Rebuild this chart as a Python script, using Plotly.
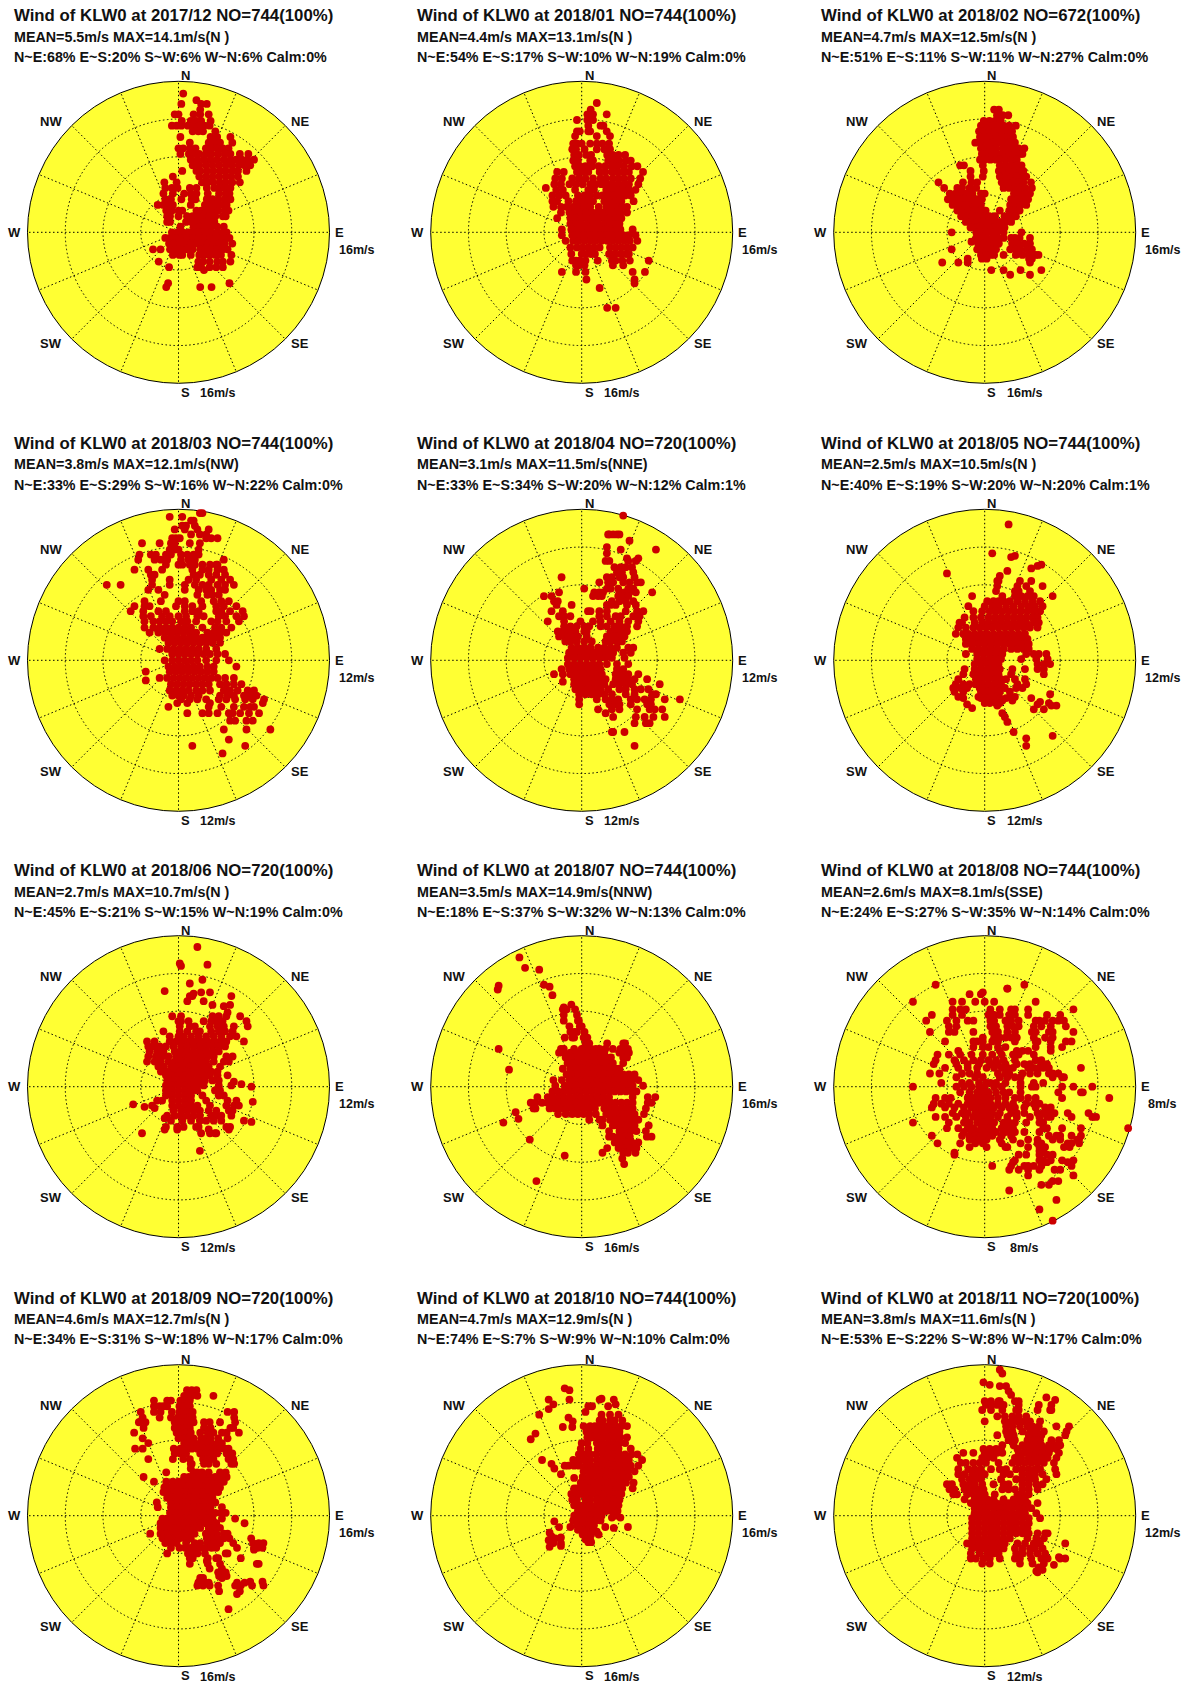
import math
import plotly.graph_objects as go

# Wind vectors: (north component m/s, [east components m/s])
P_201712 = [(14.7,[.5]),(14.0,[1.9]),(13.6,[.3,2.4,3.0]),(13.0,[2.3]),(12.5,[0,-.4,1.6,2.3,3.2]),(11.8,[.35,1.3,1.9,2.4,3.4]),
(11.3,[-.7,-.2,.3,1,1.6,2.2,2.7,3.3]),(10.7,[1.5,2.1,2.6,3.9]),(10.1,[.2,3.4,4.1,5.5]),(9.5,[1.2,3.2,3.8,4.4,5.7]),
(8.9,[0,.5,1.2,1.8,2.9,3.5,4.1,4.7,5.3]),(8.3,[.2,1.1,1.6,2.2,2.9,3.5,4.2,4.9,5.5,6.5,7.4]),(7.7,[1.3,2,2.7,3.4,4.1,4.8,5.5,6.1,6.7,7.3,8]),
(7.1,[1.5,2.2,2.9,3.6,4.3,5,5.7,6.4,7,7.6]),(6.5,[.4,1.9,2.3,3,3.7,4.4,5,5.7,6.3,7.2]),(5.9,[-.6,2.2,2.9,3.6,4.3,5,5.6,6.3]),
(5.3,[-1.5,-.2,2.5,3.1,3.7,4.4,5,5.7,6.5]),(4.7,[-1.4,-.7,-.1,1.2,1.9,3,3.8,4.3,4.9,5.5]),(4.1,[-1.6,-.6,.6,1.3,1.9,3.1,4.3,5,5.4]),
(3.5,[-1.4,-.8,.3,1.4,1.8,3,3.6,4.2,4.9,5.5]),(2.9,[-2.2,-1.6,-1,-.6,1.3,2.8,3.4,4,4.6,5.1]),(2.3,[-1.3,-.7,0,.4,1.9,2.4,3,3.6,4.2,4.9,5.3]),
(1.7,[-1.2,-.9,0,.9,1.5,2.1,2.7,3.3,3.9,4.7,5]),(1.1,[-1.2,-.9,.8,1.4,2,2.6,3.2,3.8]),(.6,[.2,1.6,2.2,2.8,3.4,4.1,4.8]),
(0,[-.7,-.1,.5,1.1,1.7,2.3,2.9,3.5,4.1,4.7,5.1]),(-.6,[-1.4,-.9,-.3,.3,.9,1.5,2.1,2.7,3.3,3.9,4.5,5.1,5.4]),
(-1.2,[-1,-.5,.1,.7,1.3,1.9,2.5,3.1,3.7,4.3,4.9,5.7]),(-1.8,[-2.7,-1.9,-.9,-.3,.3,.9,1.5,2.3,2.9,3.5,4.1,4.7,5.2]),
(-2.4,[-.6,.1,.4,1.3,2.2,2.7,3.3,3.9,4.5,5.6]),(-3.1,[-2.1,2.1,2.6,3.3,4.1,4.7,5.5]),(-3.7,[-1,2,2.4,3.3,4,4.7]),(-4.0,[2.7]),
(-5.4,[-1.1,5.4]),(-5.8,[-1.3,2.3,3.5])]

P_201801 = [(13.7,[1.6]),(13,[.95]),(12.5,[.6,1.2,2.65]),(11.9,[-.5,.6,1.2]),(11.3,[.7,2,2.3]),(10.7,[-.5,-.2,.7,.9,2.65]),(10.2,[-.7,1.6,3]),
(9.4,[-.9,-.5,0,.9,1.6,2.2,2.9]),(8.8,[-1,-.6,.3,1.6,2.4,3]),(8.2,[-.8,-.3,.5,1,2.7,3.3,3.9,4.6]),(7.6,[-.9,-.4,.9,1.2,2.8,3.4,4,4.7,5.2]),
(7,[-.7,-.2,.4,1.1,1.8,2.5,3.2,3.8,4.5,5.3,5.9]),(6.4,[-2.6,-1.9,-.5,.1,.7,1.9,2.5,3.2,3.8,4.4,5,6.5]),
(5.7,[-2.8,-2.1,-1,-.3,.4,1.2,2,2.6,3.3,3.9,4.5,5.2,6.2]),(5.1,[-2.9,-2.2,-1.3,-.6,.1,.9,1.5,2.1,2.7,3.3,3.9,4.5,5,6]),
(4.7,[-3.8]),(4.5,[-2.7,-2,-.7,.7,1.3,2.6,3.2,3.8,4.4,5,5.7]),(3.9,[-3.1,-2.4,-1.7,-.4,.3,.9,1.6,2.2,2.8,3.4,4,4.6,5.2]),
(3.3,[-3.1,-2.6,-1.4,-.6,0,.6,1.2,2.4,3,3.6,4.2,5.5]),(2.7,[-3,-2.2,-1.6,-.9,-.3,.3,.9,1.8,2.6,3.2,3.8,4.3,4.8]),
(2.1,[-2.2,-1.3,-.7,-.1,.5,1.1,1.7,2.3,2.9,3.5,4.1,4.8]),(1.5,[-2.6,-1.2,-.6,0,.6,1.2,1.8,2.4,3,3.6,4.2]),(.9,[-1.2,-.6,0,.6,1.2,1.8,2.4,3,3.6,4]),
(.3,[-2.1,-1.1,-.5,.1,.7,1.3,1.9,2.5,3.1,3.7,4.1,5.4]),(-.3,[-2.1,-1,-.4,.2,.8,1.4,2,2.6,3.2,3.8,4.4,5,5.7]),
(-.9,[-1.7,-.9,-.3,.3,.9,1.5,2.1,2.7,3.3,3.9,4.5,5.1,5.9]),(-1.6,[-1.2,-.5,.1,.7,1.3,1.9,3,3.6,4.2,4.8,5.4]),
(-2.3,[-1.1,0,.5,1,1.4,2.9,3.5,4.1,4.7,5]),(-3,[-1,-.6,-.2,.4,1.7,3.2,3.6,4.3,5.1,7.1]),(-3.5,[-.6,-.3,.3,3.3,4.4]),
(-4.2,[-2.1,-.6,.4,5.4,6.7]),(-5,[.5,5.6]),(-5.4,[5.6]),(-5.9,[1.9]),(-8,[2.7,3.6])]

P_201802 = [(13,[1,1.5]),(12.4,[1.3,1.9,2.5]),(11.8,[-.1,.5,1.1,1.7]),(11.3,[-.4,.2,.8,1.4,2,2.6,3.3]),(10.7,[-.6,-.1,.5,1.1,1.7,2.3,2.9]),
(10.1,[-.5,0,.6,1.2,1.8,2.4,3]),(9.5,[-1,-.4,.3,.8,1.4,2,2.6,3.2]),(8.9,[-.4,.1,.6,1.2,1.9,2.5,3,3.6,4.2]),(8.3,[-.3,.2,.8,1.4,2,2.6,3.2,3.8,4]),
(7.7,[-.5,0,.6,1.2,1.6,2.2,2.8,3.4]),(7.1,[-2.6,-2.2,-.2,1.6,2.2,2.8,3.4,3.9]),(6.5,[-1.5,-.1,1.5,2,2.6,3.2,3.8,4.1]),
(5.9,[-1.5,-.2,1.6,2.2,2.8,3.4,4,4.4]),(5.3,[-4.9,-2.3,-1.4,-.8,1.8,2.4,3,3.6,4.1,4.9]),(4.7,[-4.3,-2.9,-2.4,-1.6,-.9,2,2.6,3.2,3.7,4.3,5]),
(4.1,[-3.7,-3.1,-2.5,-1.9,-1.3,-.4,0,3.1,3.7,4.3,4.8]),(3.5,[-3.9,-3.3,-2.7,-2.1,-1.5,-.9,-.3,2.8,3.4,4,4.6]),(2.9,[-3.4,-2.8,-2.2,-1.6,-1,-.4,2.7,3.2,3.8,4.4]),
(2.3,[-2.9,-2.3,-1.7,-1.1,-.5,.1,1.6,2.6,3.1,3.7]),(1.7,[-2.5,-1.9,-1.3,-.7,-.1,.5,1.1,2.1,2.7,3.3]),(1.1,[-2,-1.4,-.8,-.2,.4,1,1.6,2.2,2.8]),
(.5,[-1.5,-.9,-.3,.3,.9,1.5,2.1]),(0,[-3.5,-.9,-.4,.2,.8,1.3,2,3.9]),(-.6,[-.9,-.4,.2,.8,1.4,2,2.8,3.2,3.7,4.8]),(-1,[-1.4]),
(-1.2,[-.7,-.1,.5,1,1.5,2.9,3.5,4.2,4.8]),(-1.8,[-3.5,-.8,-.3,.2,.7,1.2,2.7,3.3,3.8,4.5,5]),(-2.4,[-.4,.1,.6,1,2,3.3,4,4.7,5.4,5.7]),
(-2.8,[-1.8,-.3,.2,4.7,5]),(-3.2,[-4.5,-2.8,-1.8,4.8]),(-4,[.7,2,3.8,6]),(-4.5,[2.7,4.8])]

P_201803 = [(11.7,[1.9,1.7]),(11.4,[.3,-.7]),(11.1,[1,1.2]),(10.7,[.3,.6,1.3]),(10.4,[-6.6,-.3,.5,1.5,2.4]),(10,[1,1.7,2.2]),(9.7,[-.5,-.2,.1,2.2,2.6,3.1]),
(9.3,[-2.9,-1.5,-.6,-.3,.9,1.7]),(8.8,[-.7,-.3,0,1.6]),(8.4,[-3.1,-2.2,-1.8,-1,-.6,.2,.7,1.2,1.6]),(8,[-3.2,-1.9,-1.4,-.9,.2,.8,1.3,3.6]),
(7.6,[-1,0,.3,.9,1.3,1.9,2.5,3,3.1]),(7.2,[-3.5,-2.4,-1.3,1.1,1.9,2.4,3.1,3.6]),(6.8,[-2.2,-1.9,1.2,1.7,2.4,3,3.7]),(6.4,[-2.1,-.7,.8,1.4,2.6,3.4,4.1]),
(6,[-5.7,-4.6,-2.1,-.7,.5,1.3,1.9,2.4,3.1,3.7,4.4]),(5.6,[-2.4,-1.6,.5,1.6,2.2,2.6,3.3,3.7]),(5.2,[-1.1,1.5,2.3,2.7,3.2]),(4.7,[-2.7,-1.4,0,.5,1.8,2.8,3.4,4]),
(4.3,[-3.5,-2.7,-2.3,-.2,.5,1.1,1.9,3,3.6,4.6]),(3.9,[-3.8,-2.8,-1.6,-1,.5,1.1,1.6,3,3.4,4.1,5.1]),(3.5,[-2.8,-2.2,-1.3,-.7,0,.6,1.5,2,3.2,3.7,4.6,5.2]),
(3.1,[-2.7,-2,-1.5,-1,-.5,.2,.7,1.4,2.6,3.1,3.8,4.8]),(2.6,[-2.7,-2,-1.5,-1,-.5,0,.5,1,1.9,2.9,3.4,4.2]),(2.2,[-2.3,-1.6,-1.1,-.6,-.1,.4,.9,1.4,2.3,2.8,3.3,3.8]),
(1.8,[-1.1,-.6,-.1,.4,.9,1.4,1.9,2.4,2.9,3.3]),(1.4,[-.8,-.3,.2,.7,1.2,1.7,2.2,2.7,3.3]),(.9,[-1.5,-.9,-.4,.1,.6,1.1,1.6,2.2,3]),(.5,[-.5,0,.5,1,1.5,2,2.5,3.1,3.7]),
(0,[-1.1,-.5,0,.5,1,1.5,2.2,3,4]),(-.5,[-.8,-.3,.2,.7,1.2,1.7,2.3,2.8,4.6]),(-.9,[-2.6,-.7,-.2,.3,.8,1.3,1.8,2.3,2.8]),
(-1.4,[-1.5,-.9,-.4,.1,.6,1.1,1.6,2.1,2.6,3.1,3.7,4.4]),(-1.6,[-2.6]),(-1.9,[-.6,-.1,.4,.9,1.4,1.9,2.4,3.3,3.8,4.4,5]),(-2.4,[-.7,-.2,.3,.8,1.4,1.9,2.5,3.6,4.1,4.7,5.5,6]),
(-2.8,[-.5,0,.4,1,1.6,3.3,3.9,4.4,5.2,5.7,6.2]),(-3.1,[.2,.9,1.5,2.2,3.2,3.8,4.5,5.3,5.9,6.8]),(-3.4,[-.1,.7,2.5,6.7]),(-3.7,[-.8,2.4,3.4,4.4,5.2,5.7,6]),
(-4.2,[.7,1.9,2.4,3.1,4,4.3,4.9,5.6,6.4]),(-4.8,[4.1,4.5,5.4,5.9]),(-5.5,[3.6,5.4,7.3]),(-6.3,[4]),(-6.8,[1.1,5.3]),(-7.4,[3.5])]

P_201804 = [(11.5,[3.3]),(10,[2.2,3,2.1,2.8,2.5]),(9.5,[3.8]),(9,[2]),(8.8,[5.9,3.1]),(8.5,[2]),(8.1,[3.6,4.5]),(7.9,[1.9,2.2,3.7,4.3]),(7.4,[2.6,3.1,3.5,4]),(7,[2.8,3.2,4.1]),
(6.6,[-1.6,2,2.4,3,3.3,4.2]),(6.2,[1.4,2.1,2.5,3.3,3.8,4.4,4.7]),(5.7,[.2,2,2.3,2.9,3.7,4.1]),(5.4,[-1.8,1,1.4,1.7,3,3.4,3.8,4.3,5.6]),(5.1,[-3,-2.4,.9,1.3,1.6,2.9,3.3,3.7]),
(4.7,[-2.2,-1.9,2.4,3,3.5,4.1]),(4.4,[-2,-.8,2,2.3,2.7,3.6,4.3]),(3.9,[-2.4,-1.5,.5,.7,1.4,2,3.5,4.4,4.9]),(3.5,[-1.8,-1.4,-.9,1.4,2,2.7,3.1,4.1,4.6]),
(3.1,[-2.7,-1.4,-.1,.9,1.5,2.3,3,3.7,4.5]),(2.7,[-1.4,-.9,-.4,.2,.6,1.5,2,2.6,3.1,3.6,4.4]),(2.3,[-1.9,-1.5,-1,-.5,.2,.4,2.3,2.7,3.1,3.6]),(1.9,[-1.8,-1.3,-.8,-.3,.4,2,2.5,3,3.4]),
(1.5,[-1.3,-.9,-.4,.2,.8,1.9,2.3,2.8,3.2]),(1,[-.8,-.3,.2,.7,1.3,1.8,2.3,2.8,3.7,4.1]),(.6,[-1,-.5,0,.5,1,1.5,2,2.5,3.3,3.9]),(.2,[-1.1,-.6,-.1,.4,.9,1.4,1.9,2.4,3.4]),
(-.3,[-1.1,-.6,-.1,.4,.9,1.4,2,2.8,3.7]),(-.7,[-1.6,-1,-.5,0,.5,1,1.5,2.8,3.3]),(-1.1,[-2.2,-1.5,-.9,-.4,.1,.6,1.1,1.6,2.7,3.2,3.7,4.5]),(-1.5,[-.6,-.1,.4,.9,1.4,1.9,2.7,3.2,3.7,4.2,5.2]),
(-1.7,[-1.5]),(-1.9,[-.6,-.2,.3,.8,1.3,1.8,2.5,3,3.5,4,6.2]),(-2.3,[-.5,0,.5,1,1.5,2.1,3,3.5,4.2,4.7,5.3]),(-2.7,[-.2,.3,.8,1.3,1.8,2.4,3.5,4.2,5.6,5.9]),
(-3.1,[-.2,1.2,1.9,2.4,2.9,3.9,4.4,5,5.5,6.6,7.8]),(-3.5,[-.2,2.2,2.7,3,3.9,5.2,5.5]),(-3.9,[1.3,2.4,3,4.4,5.4,5.8,6.4]),(-4.2,[1.9]),(-4.5,[2.5,4.3,5,5.7,6.6]),
(-5,[4.2,5.1,5.4]),(-5.7,[2.4,2.5,3.4]),(-6.8,[4.2])]

P_201805 = [(10.8,[1.9]),(8.5,[.6]),(8.2,[2.1]),(8.3,[2.4]),(7.6,[4.5]),(7.5,[4.2]),(7.3,[3.7]),(7.1,[1.8]),(6.9,[-3]),(6.7,[1.2]),(6.3,[1,1.1,2.8,3.7]),(5.9,[1,2.6,3.3,4.6]),(5.5,[.9,2.4,2.7,3.6]),
(5.1,[-1,1.4,2.4,2.9,3.4,3.9,5.4]),(4.7,[.2,.7,1.1,1.5,2,2.6,3.2,3.8,4.4]),(4.3,[-1.3,0,.6,1.1,1.7,2.3,2.9,3.5,4,4.6]),(3.9,[-.9,-.2,.4,.9,1.4,1.9,2.4,2.9,3.4,3.9,4.4]),
(3.4,[-1.6,-.9,-.3,.3,.8,1.3,1.8,2.3,2.8,3.3,3.8,4.2]),(3,[-2,-1.8,-.8,-.2,.3,.8,1.3,1.8,2.3,2.8,3.3,3.9,4.3]),(2.6,[-2.1,-1.5,-.9,-.4,.1,.6,1.1,1.6,2.1,2.6,3.1,3.6,4.2]),
(2.1,[-2.3,-1.7,-1.3,-.8,-.3,.2,.7,1.2,1.7,2.2,2.7,3.2]),(1.7,[-1.5,-1.1,-.6,-.1,.4,.9,1.4,1.9,2.4,2.9,3.4]),(1.3,[-1.5,-1,-.5,0,.5,1,1.5,2,2.5,3,3.5]),(.9,[-1,-.5,0,.5,1,1.5,2.1,2.6,3.1,3.5]),
(.5,[-1.5,-.6,-.1,.4,.9,1.4,3.3,3.9,4.3,4.9]),(.1,[-.6,-.1,.4,.9,1.3,2.9,4.1,5]),(-.3,[-.8,-.3,.2,.7,1.1,4.2,4.7,5.2]),(-.7,[-1.6,-.8,-.3,.2,.7,1.2,2.2,3.2,4.2,4.7]),
(-1.1,[-1.7,-.9,-.4,.1,.6,1.1,2.1,4.7]),(-1.5,[-2.1,-.7,-.2,.3,.8,1.3,1.7,2.4,3.2]),(-1.9,[-2.3,-1.7,-1.2,-.7,-.2,.3,.8,1.3,2.6,3.3]),(-2.2,[-2.5,-1.9,-1.4,-.4,.1,.6,1.1,1.6,2.5,3]),
(-2.5,[-2.4,-1.7,-.3,.2,.7,1.2,2]),(-2.7,[5.2]),(-2.9,[-2.1,-.5,0,.5,1,2,2.4]),(-3,[-1.7,-.3,.2,.7,1.2,1.7,3.7]),(-3.2,[1.4,2.2]),(-3.3,[4.4]),(-3.4,[0,.4,.9,1.2,5.1]),(-3.5,[-1.4,4.2]),
(-3.6,[1,5.7,5.3]),(-3.8,[-1]),(-3.9,[3.9,4.7]),(-4.2,[1.4]),(-4.5,[1.6]),(-4.9,[1.8]),(-5.7,[2.3]),(-6,[5.4]),(-6.2,[3.3]),(-6.8,[3.3])]

P_201806 = [(11.1,[1.5]),(9.8,[.1]),(9.7,[2.3]),(9.6,[.2]),(8.5,[1.9]),(8.2,[.9]),(7.6,[-1.1]),(7.5,[1.8,2.5]),(7.4,[1.2]),(7.2,[.9,1.1,4.2]),(6.8,[.7,2]),(6.5,[2.7,4.1]),(6.4,[3.6]),(5.9,[3.9]),
(5.6,[-.5,.2,2.7,3.2,3.8,4.9]),(5.2,[0,.2,.8,2,2.6,3,3.5,5.4]),(4.8,[.1,.9,1.3,2.5,3.1,3.6,4.4,5.5]),(4.4,[-1.2,.1,.7,1.4,1.7,2.6,3.2,3.7,4.3]),(4,[-.7,0,.4,1,1.6,2.2,2.8,3.4,4.1,4.6]),
(3.6,[-2.5,-1.9,-.7,-.2,.3,.8,1.3,1.8,2.3,2.8,3.3,3.8,5.2]),(3.2,[-2.4,-2,-1.5,-1,-.4,.2,.7,1.2,1.7,2.2,2.7,3.2,3.7]),(2.8,[-2.3,-1.7,-1.2,-.3,.2,.7,1.2,1.7,2.2,2.7,3.2]),
(2.4,[-2.4,-1.8,-1.3,-.8,-.2,.3,.8,1.3,1.8,2.3,2.8,3.8,4.3]),(2,[-2.5,-1.9,-1.4,-.8,-.3,.2,.7,1.2,1.7,2.2,2.8,3.6,4]),(1.6,[-1.6,-1.2,-.6,-.1,.4,.9,1.4,1.9,2.4,3.3]),
(1.2,[-1.4,-.9,-.4,.1,.6,1.1,1.6,2.1,2.6,3.1]),(.9,[-1,-.5,0,.5,1,1.5,2,2.5,3.1,3.9]),(.5,[-.9,-.4,.1,.6,1.1,1.6,2.1,2.7,3.2]),(.4,[4.4]),(.2,[5]),(.1,[-1,-.5,0,.5,1,1.5,2,3.2,4.2]),(0,[5.8]),
(-.3,[-1,-.5,0,.5,1,1.5,2.9,3.3]),(-.7,[-1,-.5,0,.5,1,1.9,3.2,3.6]),(-1.1,[-1.7,-1.3,-.5,0,.5,1,2.2,3.9,4.6]),(-1.2,[5.9]),(-1.4,[-3.6]),(-1.5,[-.5,0,.5,1,1.5,2.5,3.8,4.4,4.8,-2.1]),
(-1.6,[-2.7]),(-1.7,[-1.9]),(-1.9,[-.4,.2,.7,1.2,1.7,2.4,3,4,4.3]),(-2.3,[-.9,-.3,.2,.7,1.2,1.7,2.6,3,3.4,4.2]),(-2.5,[-1.1]),(-2.7,[-.6,.3,1,1.7,2.2,2.8,3.4,5.2]),(-2.8,[5.8]),
(-3.2,[-1,-.1,.4,1.4,1.6,3.8,4.1]),(-3.4,[-.1,-1.1,2.4,4]),(-3.7,[-2.9,1.8,2.5,2.9,3]),(-5.1,[1.7])]

P_201807 = [(13.7,[-6.6]),(12.6,[-6]),(12.4,[-4.5]),(10.8,[-4]),(10.7,[-8.8]),(10.6,[-3.4]),(10.3,[-8.9]),(9.7,[-3.1]),(8.7,[-1.1]),(8.4,[-1.9]),(8.2,[-2,-1.6,-.7]),(7.6,[-1.9,-.5]),(7,[-1.9,-.4,-.3]),
(6.4,[-1.3,-.1,-.2,0]),(5.8,[-1.2,-.8,-.5,.3]),(5.2,[-1.8,-1,-.8,.2,.6]),(4.6,[.4,.8,2.7,4.4,4.6]),(4,[-8.8,-2.2,-1.9,-.8,0,.5,1,1.5,1.9,2.5,3.3,4.1,4.5,4.9]),(3.6,[-2.4,-1.9,-1.2,-.6,0,.6,1.2,1.8,2.4,4,4.6,5]),
(3.1,[-1.7,-1,-.4,.2,.8,1.4,2,2.6,3.1,4.4,4.8]),(2.5,[-1.5,-.9,-.3,.3,.9,1.5,2.1,2.7,3.3,4.4]),(1.9,[-2,-1.2,-.6,0,.6,1.2,1.8,2.4,3,3.6,4]),(1.8,[-7.7]),
(1.3,[-1.6,-1,-.4,.2,.8,1.4,2,2.6,3.2,3.8,4.4,5,5.6]),(.7,[-3,-2.1,-1.3,-.7,-.1,.5,1.1,1.7,2.3,2.9,3.5,4.1,4.7,5.3,6]),(.1,[-2.8,-1.8,-1.2,-.6,0,.6,1.2,1.8,2.4,3,3.6,4.2,4.8,5.4,6.5]),
(-.5,[-3.1,-2.5,-1.9,-1.3,-.7,-.1,.5,1.1,1.7,2.3,2.9,3.5,4.1,4.7,5.3,5.8]),(-1.1,[-4.7,-3.6,-3.1,-2.5,-1.9,-1.3,-.7,-.1,.5,1.1,1.7,2.3,2.9,5.4,7,7.8]),
(-1.7,[-5.4,-4.9,-4.2,-3.6,-3,-2.4,-1.8,-1.2,-.6,0,.6,1.2,1.8,2.4,3,3.6,4.2,4.8,5.4,7,7.4]),(-2.3,[-5.1,-4.9,-3.4,-2.8,-2.2,-1.6,-1,-.4,.2,.8,1.4,2.4,3,3.6,4.2,4.8,5.4,6.8]),
(-2.7,[-7]),(-2.9,[-2.5,-1.7,-1,-.4,.2,.8,1.5,2.6,3.2,3.8,4.4,5,5.6,6.6]),(-3.4,[-6.7]),(-3.5,[.8,1.9,2.2,3,3.6,4.2,4.8,5.4,6]),(-3.8,[-8.3]),(-4.1,[2.2,3.3,3.8,4.4,5,5.6,7.1]),
(-4.7,[2.9,4,4.6,5.2,5.8,6.8]),(-5.3,[2.9,3.3,3.9,4.5,5.1,6.9,7.4]),(-5.6,[-5.5]),(-5.9,[3.5,4.1,4.7,5.3,6]),(-6.5,[2.7,3.9,4.5,5.1,5.8]),(-7,[2.2,4.4,4.9,5.7]),(-7.3,[-1.8]),(-7.6,[4.3]),(-8.2,[4.5]),(-10,[-4.8])]

P_201808 = [(5.4,[-2.6,2.1]),(5.2,[1.2,1.2]),(5,[-.1]),(4.9,[-.8,-.2]),(4.5,[-3.8,-1.2,-.5,0,.5,-1.7,2.7]),(4.1,[-1.7,-1.3,-1,.3,.8,1.4,1.6,2.3,4.7]),(3.8,[-2.8,-1.7,-1.2,.2,.5,.8,1.3,1.6,2.3,3.3,4]),
(3.5,[-3.1,-2,-1.5,-.9,-.6,.3,.5,1.1,1.4,1.8,2.7,2.9,3.2,3.6,3.9,4.2]),(3.2,[-1.5,-1.9,.3,.6,1.2,1.5,1.8,2.6,3,3.5,4.3]),(2.9,[-2.9,-1.9,-1.6,-.6,.4,.7,1.2,1.6,2.5,2.7,3.4,3.6,4.7]),
(2.6,[-.1,.5,.8,1.1,1.4,1.7,2.6,3.2,3.6]),(2.4,[-2.1,-.6,-.4,-.1,.4,.7,1.6,2.7,2.8,3.5,4.3,4.6]),(2.1,[-.6,-.1,.2,.7,1.1,2.7,3.5,4.1]),(1.9,[-1.4,.8,1.7,2,2.3,3.5]),
(1.7,[-2.5,-1.9,-1.3,-.7,-.1,.4,.9,1.5,1.8,2.6]),(1.4,[-2.6,-1.6,-1.1,-.6,-.2,.2,.6,1,1.6,2.7,3]),(1.2,[-2.7,-1.5,-.9,-.3,.3,.7,1.1,1.7,2.1,2.4,3,3.3]),
(1,[-2.1,-1.4,-.9,-.4,.1,.5,.9,1.2,1.5,2.3,2.6,2.9,3.1,3.4,5.1]),(.7,[-2.9,-2.4,-1.2,-.8,-.4,.7,1.1,1.3,2,2.4,2.8,3.4,3.6,3.9]),(.5,[-1.5,-.5,-.1,.8,1.2,1.6,1.9,3.6,4.1,4.2]),
(.2,[-2.3,-1.2,-.8,-.3,.1,.3,.6,1.1,1.9,2.6,3.1]),(0,[-3.8,-1.5,-1.1,-.7,-.3,0,.5,.9,1.9,2.5,2.7,4.1,4.7,5.7]),(-.3,[-1.3,-.8,-.4,-.1,.2,.6,1,1.3,1.9,3.9,5.1,5.2]),
(-.6,[-2.6,-2.1,-1.8,-.9,-.6,-.3,0,.3,.7,1.1,1.6,1.9,2.3,2.7,4.1,6.6]),(-.9,[-2.7,-2.3,-1.9,-1.4,-.9,-.6,-.3,0,.3,.7,1.1,1.5,2.2,2.6,2.9]),(-1.1,[-2.8,-2.1,-1.6,-1.1,-.7,-.4,-.1,.2,.5,.9,1.3,1.6,2.1,2.7,3.2,3.5]),
(-1.4,[-1.7,-1.2,-.9,-.5,-.2,.1,.4,.8,1.4,1.7,2.1,2.8,3.1,3.4,3.7,4.4,5.5]),(-1.6,[-2.6,-2.1,-1.5,-1,-.6,-.3,0,.3,.7,1.2,1.7,2.4,2.9,3.3,3.5,4.6,5.7,5.9]),(-1.9,[-3.8,-1.9,-1.1,-.8,-.4,-.1,.2,.5,1,1.3,1.6,2.2,2.9,3.1]),
(-2.2,[-2,-1.4,-.9,-.6,-.2,.1,.4,.9,1.2,1.5,3.1,3.3,4.1,5.1,7.6]),(-2.4,[-1.1,-.7,-.4,-.1,.2,.6,1.1,1.4,1.6,2.1,2.9]),(-2.6,[-2.8,-1.2,-.8,-.5,-.2,.1,.4,.9,1.4,3.4,3.8,4,4.6,5.1]),
(-2.8,[-.8,-.5,-.2,.1,.8,1.5,2.3,2.8,3.6,4,4.9,5]),(-3,[-2.5,-1.3,-.5,-.1,.9,1.9,2.8,3,4.4,4.6,5]),(-3.2,[-.8,.1,1.1,1.2,2.3,2.9,3.2,4.2,4.5]),(-3.4,[2.9,3.1]),(-3.5,[-1.6,3]),
(-3.6,[-1.6,1.8,2.2,2.9,3.3,3.6]),(-3.9,[1.6,2.9,3.1,3.5,4.1,4.7]),(-4,[1.5,3.3,4.4]),(-4.2,[.4,1.4,2.1,2.3,2.6,3,4.6]),(-4.4,[1.3,1.8,2.3,2.9,3.7,4]),(-4.7,[2.3,4.7]),(-5,[3.6,3.9]),(-5.2,[3,3.4]),
(-5.5,[1.3]),(-6,[3.8]),(-6.5,[2.9]),(-7.1,[3.6])]

P_201809 = [(13.3,[.9,1.4,1.9]),(12.7,[.6,1,1.4,2,3.7]),(12.2,[-2.6,-1.2,-.8,.2,.7,1.2]),(11.6,[-2.6,-2,-1.6,-1.2,.1,.6,1.2]),(11,[-4,-2.6,-1.9,-.7,.1,.5,1,1.5,5.2,5.9]),(10.4,[-3.8,-2,-.8,-.1,.4,1,1.5,5.9]),
(9.9,[-4.2,-3.5,-.4,.1,.6,1.1,1.6,2.7,3.3,4.4,6]),(9.3,[-3.7,-.4,.2,.7,1.2,2.7,3.4,5.5,5.8]),(8.8,[-4.7,-.2,.3,.8,1.3,2.3,3.1,3.7,4.6,5.1,6.4]),(8.2,[-3.8,0,.6,1.1,1.6,2.4,2.9,3.4,4.2,5.2]),
(7.7,[-3.2,.6,1.1,1.7,2.3,2.9,3.5,4.2,4.6]),(7.1,[-4.6,-3.8,-.5,.2,.8,1.4,2,2.6,3.2,3.8,4.4,4.9,5.3]),(6.6,[-.4,.2,.8,2.3,2.9,3.5,4.1,5.1,5.7]),(6,[-3.2,-.6,.5,1.2,2.6,3,3.7,5.3,5.8]),
(5.5,[1.3,1.4,2.7,3.2,4,5.6,5.9]),(5,[1.3]),(4.6,[-1.3,1.6,2,2.5,3.2,4.4,5]),(4.1,[-3.7,.6,1.1,1.6,2.2,2.7,3.3,3.9,4.5,5.1]),(3.6,[-2.6,-1.3,-.6,0,.6,1.2,1.8,2.4,3,3.6,4.2,4.8]),
(3,[-1.5,-1,-.4,.2,.8,1.4,2,2.6,3.2,3.8,4.4]),(2.5,[-1.6,-1,-.4,.2,.8,1.4,2,2.6,3.2,3.8,4.2]),(1.9,[-1.2,-.6,0,.6,1.2,1.8,2.4,3,3.6]),(1.4,[-2.3,-.8,-.2,.4,1,1.6,2.2,2.8,3.4,3.9]),
(.9,[-2.2,-.8,-.2,.4,1,1.6,2.2,2.8,3.4,4.6]),(.3,[-.9,-.3,.3,.9,1.5,2.1,2.7,3.3,3.9,4.5,5]),(-.3,[-1.7,-1.2,-.6,0,.6,1.2,1.8,2.4,3,3.6,4.6,6]),(-.8,[-1.9,-1.3,-.7,-.1,.5,1.1,1.7,2.3,2.9,3.5,4,7]),
(-1.3,[-1.9,-1.3,-.7,-.1,.5,1.1,1.7,2.3,3.2,3.8,4.4]),(-1.9,[-3,-1.9,-1.3,-.7,-.1,.5,1.1,1.7,2.9,3.5,4,4.8,5.2]),(-2.4,[-1.7,-1.1,-.5,.1,.7,1.3,3,3.6,4.2,4.8,5.4,7.7]),
(-2.9,[-1.4,-.8,-.2,.8,1.7,2.3,3.1,3.7,4.4,5.8,7.9,8.5,9]),(-3.4,[-.8,.1,.7,1.3,1.8,2.3,2.9,3.5,4,6.2,8,8.4,8.9]),(-3.6,[8]),(-4,[-1.2,1,1.4,2,2.8,5,5.2]),(-4.5,[1.2,1.5,3.1,4,4.2,6.6]),(-4.8,[3]),
(-5.1,[1.2,3.1,4.4,8.3,8.5]),(-5.6,[3.3,4.6]),(-6,[4.2,4.6,5]),(-6.4,[4.3,5.1]),(-6.6,[2.3,2.6,4.6]),(-7,[2.2,7.6,8.9]),(-7.1,[2.1,2.8,3.2,6.2,7]),(-7.4,[2,2.6,3.3,4.2,6,6.6,7.8,9]),(-8,[4.3,6.5]),(-8.3,[6.2]),(-9.9,[5.3])]

P_201810 = [(13.5,[-1.8]),(13.3,[-1.3]),(12.4,[2.1]),(12.3,[-1.3,-3.5,1.9,3.4]),(11.8,[-3,3.6]),(11.6,[2.8,.7,1.1]),(11.3,[-3.5]),(11,[.4]),(10.7,[-4.5,2.1,3,3.9]),(10.4,[-1.4]),(10.1,[1.9,2.2,3,3.5,4.3]),(10,[-.95]),
(9.5,[.2,.9,1.4,1.9,2.5,3,3.6,4.2,4.8]),(9.4,[-2,-1]),(8.9,[.5,1,1.6,2.2,2.8,3.4,4]),(8.7,[-4.9]),(8.3,[.6,1.1,1.7,2.3,2.9,3.5,4.1,4.8]),(8.1,[-5.4]),(7.7,[0,.6,1.6,2.2,2.8,3.4,4,4.6]),(7.1,[-.1,.7,1.7,2.3,2.8,3.3,3.9,5.2]),
(6.5,[-.3,.3,.9,1.5,2.2,2.8,3.4,4,4.6,5.3,5.9]),(5.9,[-4.2,-.9,-.3,.3,.9,1.6,2.1,2.7,3.3,3.9,4.5,5,6.4]),(5.5,[-3.2]),(5.3,[-1.8,-1.4,-.8,-.3,.4,1,1.6,2.2,2.8,3.4,4,4.6,5.2,6]),(5,[-2.9]),
(4.7,[.2,.7,1.3,1.9,2.5,3.1,3.7,4.3,4.9,5.6]),(4.4,[-2.2]),(4.1,[.1,.8,1.4,2,2.6,3.2,3.8,4.4,5]),(4,[-.8]),(3.5,[-.1,.5,1.1,1.7,2.3,2.9,3.5,4.1,4.7,5.5]),(2.9,[-.8,-.5,.1,.7,1.3,1.9,2.5,3.1,3.7,4.3,5.4]),
(2.3,[-1.1,-.6,0,.6,1.2,1.8,2.4,3,3.6,4.2]),(1.7,[-1,-.5,.4,.9,1.6,2.2,2.8,3.4,4]),(1.1,[-.8,-.3,.3,.9,1.5,2.1,2.7,3.3,3.9]),(.5,[-.4,.2,.8,1.4,2,2.6,3.2,3.8]),(.4,[3.5]),(0,[-.8,-.3,.3,.9,1.5,2.1,3.7]),
(-.2,[3.2,4.1]),(-.5,[-.9,-.3,.3,.9,1.5,2]),(-.6,[-2.9]),(-1,[-.5,.1,.7,1.3]),(-1.2,[-2.4,-1.2,2.5,4.9]),(-1.3,[3.4]),(-1.5,[-.4,.2,.7,1.2]),(-1.7,[1.6]),(-1.8,[-3.4]),(-2,[.1,.5,1,1.8]),
(-2.2,[-3.2]),(-2.3,[-2.2]),(-2.4,[-2.8]),(-2.5,[.4,.9]),(-2.6,[-3.5]),(-2.8,[.7,1]),(-2.9,[-3,-2.2]),(-3.2,[-2.2]),(-3.3,[-3.4])]

P_201811 = [(11.9,[1.7]),(11.6,[1.2]),(11.3,[1.4]),(10.6,[-.1]),(10.4,[.4]),(10.3,[1.2,1.7]),(9.9,[1.9]),(9.6,[2.1]),(9.4,[4.9]),(9.2,[5.6]),(9.1,[0,.5,1.1,1.2,2.4,2.7]),(8.8,[.1,.5,1,1.5,2.7,4.3,5.3]),
(8.4,[-.2,.5,1.4,2.5,2.7,4.2,5.2,5.3]),(7.9,[1,1.6,2.2,2.7,3.3]),(7.5,[0,1.6,2.1,2.6,3.1,3.6,4.4]),(7.1,[1.7,2.2,2.8,3.4,3.8,4.3,5.7,6.7]),(6.7,[1.7,2.2,3,3.6,4.1,4.7,6.5]),(6.4,[1,1.8,2.3,3.5,4,4.5,6.4]),
(6,[1.9,2.4,3.4,3.9,4.4,5.3,5.9]),(5.6,[1.4,2.3,3,3.5,4,4.5,5.1,5.6,6]),(5.3,[-.1,.4,.9,1.3,2.6,3.2,3.7,4.2,4.7,5.2,5.7]),(5,[-1.7,-.9,0,.5,1,1.4,2.7,3.1,3.6,4.1,4.6,5.1,5.9]),
(4.6,[-2.2,-.2,.2,.7,2.4,2.9,3.5,4,4.5,5,5.7]),(4.2,[-1.9,-1.5,-.9,-.4,.1,1.1,2.2,2.7,3.2,3.7,4.2,4.7,5.5]),(3.7,[-2.1,-1.3,-.8,-.3,.5,1.2,1.7,2.5,3,3.5,4,4.4,5.6]),(3.3,[-2.1,-1.6,-1,-.5,0,1.5,2,3,3.5,4,4.6,5.7]),
(2.9,[-1.8,-1.2,-.8,-.3,1.3,2.5,3,3.5,4,4.9]),(2.5,[-3,-2.6,-1.7,-1.2,-.8,-.2,.7,1.5,1.9,3,3.5,4.1,4.6]),(2.1,[-2.8,-2.4,-1.6,-1.1,-.6,-.1,1.4,1.9,2.4,3,3.5,4.2]),(1.7,[-2.5,-2.2,-1.4,-.9,-.5,0,.8,2.6,3,3.5]),
(1.3,[-1.6,-.8,-.3,.2,.7,1.5,2.3,2.8,3.2]),(1,[-1.1,-.6,-.1,.4,.9,1.4,1.9,2.4,2.9,3.4,4.2]),(.6,[-.8,-.3,.2,.7,1.2,1.7,2.2,2.7,3.2,3.7]),(.2,[-.8,-.3,.2,.7,1.2,1.7,2.2,2.7,3.2,4.1]),
(-.2,[-1,-.5,0,.5,1,1.5,2,2.5,3,3.5,4.4]),(-.6,[-1,-.5,0,.5,1,1.5,2,2.5,3,3.5]),(-1,[-1,-.5,0,.5,1,1.5,2,2.5,3,3.4]),(-1.4,[-1,-.5,0,.5,1,1.5,2,2.5,3,3.5,4.2,4.8,5]),(-1.8,[-1,-.5,0,.5,1,1.5,2,3.4,4.1,4.7]),
(-2.2,[-1.4,-.9,-.4,.1,.6,1.1,1.6,2.6,3.2,3.9,4.4,6.4]),(-2.6,[-1,-.5,0,.5,1,1.5,2.4,3,3.6,4,4.6]),(-3,[-1.1,-.4,.2,.7,1.1,2.5,3,3.6,4.2,4.8]),(-3.3,[5.9]),(-3.4,[-1.1,-.7,-.1,.4,1.2,2.4,2.8,3.7,4.5,5,6,6.4]),
(-3.8,[-.2,.4,2.8,3.8,4.7]),(-3.9,[5.5]),(-4.1,[4.3]),(-4.3,[4.6]),(-4.4,[4.1]),(-4.5,[4.2])]

PANELS = [P_201712, P_201801, P_201802, P_201803, P_201804, P_201805, P_201806, P_201807, P_201808, P_201809, P_201810, P_201811]
MONTHS = ["2017/12","2018/01","2018/02","2018/03","2018/04","2018/05","2018/06","2018/07","2018/08","2018/09","2018/10","2018/11"]
COUNTS = [744,744,672,744,720,744,720,744,744,720,744,720]
MEANS = [5.5,4.4,4.7,3.8,3.1,2.5,2.7,3.5,2.6,4.6,4.7,3.8]
MAXES = [14.1,13.1,12.5,12.1,11.5,10.5,10.7,14.9,8.1,12.7,12.9,11.6]
MAXDIR = ["N ","N ","N ","NW","NNE","N ","N ","NNW","SSE","N ","N ","N "]
QUAD = [(68,20,6,6,0),(54,17,10,19,0),(51,11,11,27,0),(33,29,16,22,0),(33,34,20,12,1),(40,19,20,20,1),
        (45,21,15,19,0),(18,37,32,13,0),(24,27,35,14,0),(34,31,18,17,0),(74,7,9,10,0),(53,22,8,17,0)]
RMAX = [16,16,16,12,12,12,12,16,8,16,16,12]
COMPASS = ["N","NE","E","SE","S","SW","W","NW"]

W, H = 1191, 1683
RADIUS = 151
CX = [178.5, 581.7, 984.7]
CY = [232.3, 660.3, 1086.7, 1515.7]
TEXT_X = [12.7, 416, 820]
TEXT_Y = [(15.7,36.7,56.7),(443.3,464.3,485),(870,891.7,911.7),(1298,1319.3,1339.3)]
LABEL_OFF = {"N":(7.3,-156.3),"NE":(121.7,-110.7),"E":(161,0),"SE":(121,111),"S":(7.3,160),"SW":(-127.3,111),"W":(-164,0),"NW":(-127.3,-110.7)}
YELLOW, RED, INK = "#FFFF33", "#CC0000", "#111111"
SANS = "Liberation Sans, Arial, sans-serif"
GRID_DASH = "1.5px,2.5px"

fig = go.Figure()
ann = []
def label(px, py, text, size, anchor="center"):
    ann.append(dict(x=px/W, y=1-py/H, xref="paper", yref="paper", text=f"<b>{text}</b>", showarrow=False,
                    xanchor=anchor, yanchor="middle", font=dict(family=SANS, size=size, color=INK), borderpad=0))

layout = {}
for i, rows in enumerate(PANELS):
    col, row = i % 3, i // 3
    cx, cy = CX[col], CY[row]
    east = [u for v, us in rows for u in us]
    north = [v for v, us in rows for u in us]
    speed = [math.hypot(u, v) for u, v in zip(east, north)]
    bearing = [math.degrees(math.atan2(u, v)) % 360 for u, v in zip(east, north)]
    name = "polar" if i == 0 else f"polar{i+1}"
    fig.add_trace(go.Scatterpolar(r=speed, theta=bearing, mode="markers", subplot=name, cliponaxis=False,
                                  marker=dict(size=7.8, color=RED, line=dict(width=0)), hoverinfo="skip"))
    R = RMAX[i]
    layout[name] = dict(
        domain=dict(x=[(cx-RADIUS)/W, (cx+RADIUS)/W], y=[1-(cy+RADIUS)/H, 1-(cy-RADIUS)/H]),
        bgcolor=YELLOW,
        radialaxis=dict(range=[0, R], tickmode="array", tickvals=[R/4, R/2, 3*R/4], showticklabels=False, ticks="",
                        showline=False, gridcolor="black", griddash=GRID_DASH, gridwidth=1, layer="below traces"),
        angularaxis=dict(direction="clockwise", rotation=90, tickmode="array", tickvals=[k*22.5 for k in range(16)],
                         showticklabels=False, ticks="", showline=True, linecolor="black", linewidth=1,
                         gridcolor="black", griddash=GRID_DASH, gridwidth=1, layer="below traces"),
    )
    q = QUAD[i]
    label(TEXT_X[col], TEXT_Y[row][0], f"Wind of KLW0 at {MONTHS[i]} NO={COUNTS[i]}(100%)", 16.8, "left")
    label(TEXT_X[col], TEXT_Y[row][1], f"MEAN={MEANS[i]}m/s MAX={MAXES[i]}m/s({MAXDIR[i]})", 14.3, "left")
    label(TEXT_X[col], TEXT_Y[row][2], f"N~E:{q[0]}% E~S:{q[1]}% S~W:{q[2]}% W~N:{q[3]}% Calm:{q[4]}%", 14.3, "left")
    for c in COMPASS:
        dx, dy = LABEL_OFF[c]
        label(cx+dx, cy+dy, c, 13)
    label(cx+178, cy+17.7, f"{R}m/s", 12.5)
    label(cx+39.3, cy+161, f"{R}m/s", 12.5)

fig.update_layout(width=W, height=H, margin=dict(l=0, r=0, t=0, b=0), paper_bgcolor="white", showlegend=False,
                  annotations=ann, **layout)
fig.write_html("out.html", config=dict(displayModeBar=False), post_script="document.body.style.margin='0';")
